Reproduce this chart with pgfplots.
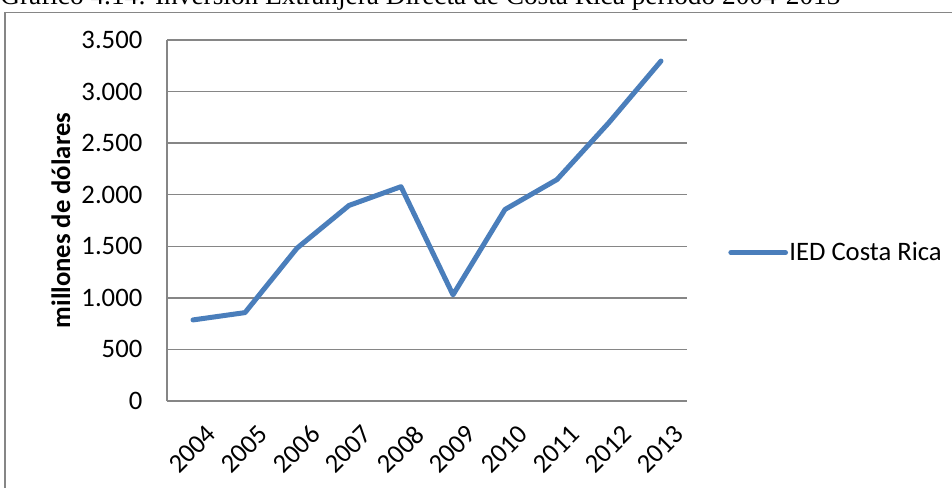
\documentclass[border=0pt]{standalone}
\usepackage{fontspec}
\setmainfont{Carlito}
\newfontfamily\timesf{Liberation Serif}
\usepackage{pgfplots}
\pgfplotsset{compat=1.18}
\definecolor{lineblue}{HTML}{4A7EBB}
\definecolor{gridgray}{HTML}{868686}
\begin{document}
\begin{tikzpicture}
\draw[gridgray, line width=1.2pt] (3.75pt,-9.4pt) rectangle (760pt,-400pt);
\node[anchor=base west, inner sep=0pt, font=\timesf\fontsize{20.5pt}{22pt}\selectfont] at (0pt,-3.5pt) {Gráfico 4.14: Inversión Extranjera Directa de Costa Rica período 2004-2013};
\begin{axis}[
  at={(125.25pt,-300.75pt)}, anchor=south west,
  scale only axis, width=390pt, height=270.75pt,
  xmin=-0.5, xmax=9.5, ymin=0, ymax=3500,
  xtick={0,...,9},
  xticklabels={2004,2005,2006,2007,2008,2009,2010,2011,2012,2013},
  ytick={0,500,...,3500},
  axis lines=left, axis line style={-, gridgray, line width=1pt},
  ymajorgrids, grid style={gridgray, line width=1pt},
  major tick length=0pt,
  tick label style={font=\fontsize{20pt}{22pt}\selectfont},
  /pgf/number format/assume math mode=true,
  /pgf/number format/.cd, 1000 sep={.}, /pgfplots/.cd,
  yticklabel style={xshift=-15pt},
  xticklabel style={rotate=45, anchor=north east, xshift=-2pt, yshift=-15pt},
  every axis y label/.style={at={(axis description cs:-0.204,0.5)}, rotate=90, anchor=center, font=\bfseries\fontsize{20pt}{22pt}\selectfont},
  ylabel={millones de dólares},
  legend style={at={(axis description cs:1.079,0.411)}, anchor=west, draw=none, fill=none, inner sep=0pt, font=\fontsize{20pt}{22pt}\selectfont, nodes={inner sep=1pt}},
  legend image code/.code={\draw[#1, line cap=round] (0pt,0pt) -- (41pt,0pt);},
  clip=false,
]
\addplot[lineblue, line width=3.75pt, line join=round, line cap=round] coordinates {
(0,786) (1,857) (2,1482) (3,1896) (4,2078) (5,1029) (6,1857) (7,2147) (8,2700) (9,3296)
};
\addlegendentry{IED Costa Rica}
\end{axis}
\pgfresetboundingbox
\useasboundingbox (0pt,0pt) rectangle (714pt,-366pt);
\end{tikzpicture}
\end{document}
